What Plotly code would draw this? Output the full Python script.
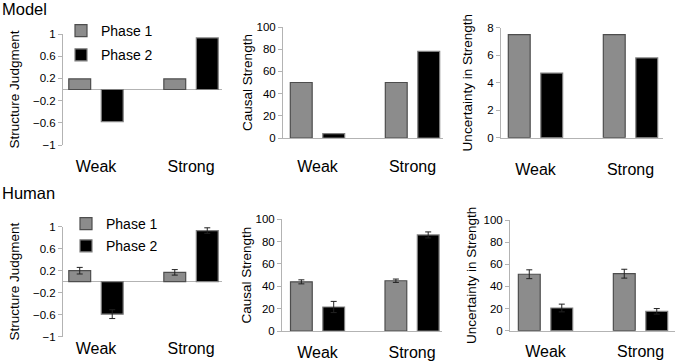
import plotly.graph_objects as go

categories = ["Weak", "Strong"]
series_names = ["Phase 1", "Phase 2"]

model_struct_p1 = [0.19, 0.19]
model_struct_p2 = [-0.58, 0.93]
model_causal_p1 = [50, 50]
model_causal_p2 = [4, 78]
model_unc_p1 = [7.5, 7.5]
model_unc_p2 = [4.7, 5.8]

human_struct_p1 = [0.20, 0.17]
human_struct_p1_err = [0.06, 0.05]
human_struct_p2 = [-0.59, 0.93]
human_struct_p2_err = [0.08, 0.05]
human_causal_p1 = [44, 45]
human_causal_p1_err = [1.8, 1.5]
human_causal_p2 = [21.5, 86]
human_causal_p2_err = [5, 2.7]
human_unc_p1 = [51, 51.5]
human_unc_p1_err = [4, 4]
human_unc_p2 = [20.5, 17.5]
human_unc_p2_err = [3.5, 2.5]

y_titles = ["Structure Judgment", "Causal Strength", "Uncertainty in Strength",
            "Structure Judgment", "Causal Strength", "Uncertainty in Strength"]
row_titles = ["Model", "Human"]

W, H = 675, 364
FONT = "Liberation Sans, Arial, sans-serif"
GRAY = "#8c8c8c"
AXIS = "#b3b3b3"

fig = go.Figure()

panels = [
    (model_struct_p1, None, model_struct_p2, None, "legend"),
    (model_causal_p1, None, model_causal_p2, None, None),
    (model_unc_p1, None, model_unc_p2, None, None),
    (human_struct_p1, human_struct_p1_err, human_struct_p2, human_struct_p2_err, "legend2"),
    (human_causal_p1, human_causal_p1_err, human_causal_p2, human_causal_p2_err, None),
    (human_unc_p1, human_unc_p1_err, human_unc_p2, human_unc_p2_err, None),
]

for i, (p1, e1, p2, e2, leg) in enumerate(panels):
    sfx = "" if i == 0 else str(i + 1)
    for name, vals, err, color, lcol in [
        (series_names[0], p1, e1, GRAY, "#4d4d4d"),
        (series_names[1], p2, e2, "black", "#7f7f7f"),
    ]:
        kw = dict(
            x=categories, y=vals, name=name,
            marker=dict(color=color, line=dict(color=lcol, width=1.2)),
            xaxis="x" + sfx, yaxis="y" + sfx,
            showlegend=leg is not None,
            legendgroup=f"{name}-{i}",
        )
        if leg is not None:
            kw["legend"] = leg
        if err is not None:
            kw["error_y"] = dict(type="data", array=err, visible=True,
                                 color="#222222", thickness=1, width=3)
        fig.add_trace(go.Bar(**kw))

# pixel geometry of each panel: (x0, x1, ytop, ybottom, xrange, yrange, dtick, title standoff, label standoff)
geo = [
    (63, 222, 34, 145, [-0.347, 1.326], [-1, 1], 0.4, 10, 10),
    (283, 443, 27, 138, [-0.363, 1.321], [0, 100], 20, 0, 14),
    (501, 663, 27.7, 137.7, [-0.363, 1.342], [0, 8], 2, 11, 17),
    (63, 222, 226.7, 336.7, [-0.347, 1.326], [-1, 1], 0.4, 10, 0),
    (282, 442, 219.3, 331, [-0.376, 1.317], [0, 100], 20, 0, 7),
    (510, 675, 220, 330.7, [-0.374, 1.363], [0, 100], 20, 3, 6),
]

layout = {}
for i, (x0, x1, yt, yb, xr, yr, dt, tst, lst) in enumerate(geo):
    sfx = "" if i == 0 else str(i + 1)
    struct = yr[0] < 0
    layout["xaxis" + sfx] = dict(
        domain=[x0 / W, x1 / W], anchor="y" + sfx, range=xr,
        type="category", showline=not struct, linecolor=AXIS, linewidth=1,
        ticks="", showgrid=False, zeroline=False,
        tickfont=dict(family=FONT, size=16, color="black"),
        ticklabelstandoff=lst, fixedrange=True,
    )
    layout["yaxis" + sfx] = dict(
        domain=[1 - yb / H, 1 - yt / H], anchor="x" + sfx, range=yr,
        tick0=yr[0], dtick=dt, showline=True, linecolor=AXIS, linewidth=1,
        ticks="outside", ticklen=4, tickcolor=AXIS, showgrid=False,
        zeroline=struct, zerolinecolor=AXIS, zerolinewidth=1,
        tickfont=dict(family=FONT, size=11.5, color="black"),
        title=dict(text=y_titles[i], font=dict(family=FONT, size=13.5, color="black"),
                   standoff=tst),
        automargin=False, fixedrange=True,
    )

fig.update_layout(
    **layout,
    width=W, height=H,
    margin=dict(l=0, r=0, t=0, b=0),
    paper_bgcolor="white", plot_bgcolor="white",
    barmode="group", bargap=0.316, bargroupgap=0.327,
    font=dict(family=FONT, color="black"),
    legend=dict(x=61 / W, y=1 - 15 / H, xanchor="left", yanchor="top",
                font=dict(family=FONT, size=14, color="black"),
                bgcolor="rgba(0,0,0,0)", tracegroupgap=3, traceorder="grouped"),
    legend2=dict(x=66 / W, y=1 - 208 / H, xanchor="left", yanchor="top",
                 font=dict(family=FONT, size=14, color="black"),
                 bgcolor="rgba(0,0,0,0)", tracegroupgap=1, traceorder="grouped"),
    annotations=[
        dict(text=row_titles[0], x=0, y=1 - 9 / H, xref="paper", yref="paper",
             xanchor="left", yanchor="middle", showarrow=False,
             font=dict(family=FONT, size=16.5, color="black")),
        dict(text=row_titles[1], x=0, y=1 - 193 / H, xref="paper", yref="paper",
             xanchor="left", yanchor="middle", showarrow=False,
             font=dict(family=FONT, size=16.5, color="black")),
    ],
)

fig.write_html("out.html", config={"displayModeBar": False},
               post_script="document.body.style.margin='0';")
